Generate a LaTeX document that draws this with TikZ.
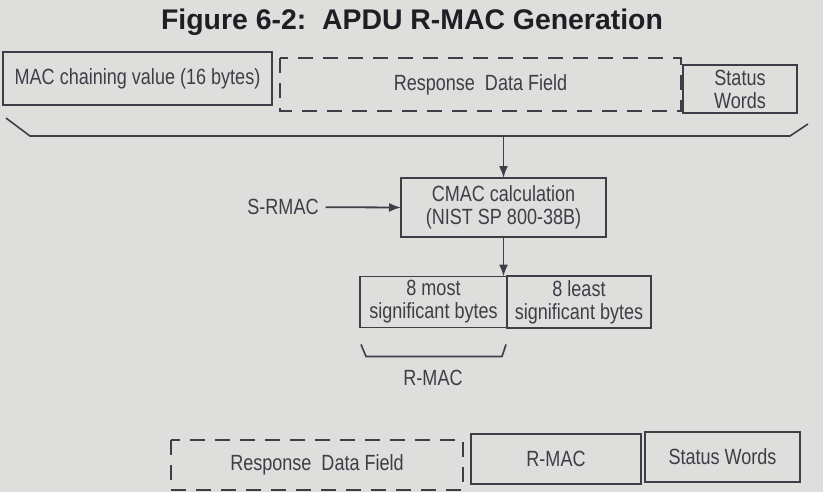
\documentclass[tikz,border=0pt]{standalone}
\usepackage{fontspec}
\setmainfont{Liberation Sans}
\newfontfamily\narrowsans{Liberation Sans}[FakeStretch=0.82]
\usetikzlibrary{arrows.meta, positioning}
\definecolor{paper}{RGB}{222,222,220}
\definecolor{ink}{RGB}{62,62,72}
\definecolor{titleink}{RGB}{30,30,36}

\begin{document}
\begin{tikzpicture}[
    x=0.5pt, y=-0.5pt,
    >={Latex[length=6pt, width=4.5pt]},
    every node/.style={font=\narrowsans\fontsize{11}{11.5}\selectfont, text=ink},
    field/.style ={draw=ink, line width=0.9pt, align=center, inner sep=2pt,
                   outer sep=0pt},
    dfield/.style={align=center, inner sep=2pt, outer sep=0pt},
    dashbox/.style={draw=ink, line width=0.9pt, dash pattern=on 7.5pt off 5pt},
    flow/.style  ={->, draw=ink, line width=0.9pt},
    brace/.style ={draw=ink, line width=0.8pt},
]
\fill[paper] (0,0) rectangle (823,492);
\useasboundingbox (0,0) rectangle (823,492);

\node[font=\fontsize{14.2}{16}\selectfont\bfseries, text=titleink] (title) at (412,22)
      {Figure 6-2:\ \ APDU R-MAC Generation};

% input: chaining value | response data | status words
\node[field, minimum width=134.5pt, minimum height=26.5pt] (mac) at (137.5,78.5)
      {MAC chaining value (16 bytes)};
\node[dfield, minimum width=200.5pt, minimum height=26.5pt] (resp) at (480.5,84.5)
      {Response\ \ Data Field};
\draw[dashbox] (resp.north west) rectangle (resp.south east);
\node[field, minimum width=57pt, minimum height=24pt] (sw) at (740,89)
      {Status\\Words};

\draw[brace] (6,118) -- (30,136) coordinate (bl) -- (790,136) -- (808,124);
\coordinate (join) at (503.5,136);

\node[field, minimum width=102.5pt, minimum height=29.5pt] (cmac) at (503.5,207.5)
      {CMAC calculation\\(NIST SP 800-38B)};
\node (srmac) at (283,207) {S-RMAC};

\node[field, minimum width=73.5pt, minimum height=25pt] (most) at (433.5,302)
      {8 most\\significant bytes};
\node[field, minimum width=72pt, minimum height=25pt, right=0pt of most] (least)
      {8 least\\significant bytes};

\draw[flow] (join)    -- (cmac.north);
\draw[flow] (srmac)   -- (cmac.west);
\draw[flow] (cmac.south) -- (cmac.south |- most.north);

% R-MAC = upper half of the CMAC output
\draw[brace] ([xshift=0.5pt,yshift=-8.5pt]most.south west) -- ++(2.5pt,-6pt)
             -- ([xshift=-2.5pt,yshift=-14.5pt]most.south east) -- ++(2pt,6pt);
\node (rmac) at (433,378) {R-MAC};

% output: response data | R-MAC | status words
\node[dfield, minimum width=146pt, minimum height=25pt] (resp2) at (317,465)
      {\raisebox{-3pt}{Response\ \ Data Field}};
\draw[dashbox] (resp2.north west) rectangle (resp2.south east);
\node[field, minimum width=85pt, minimum height=25pt] (rmac2) at (556,459) {R-MAC};
\node[field, minimum width=77.5pt, minimum height=25pt] (sw2) at (722.5,457)
      {Status Words};
\end{tikzpicture}
\end{document}
